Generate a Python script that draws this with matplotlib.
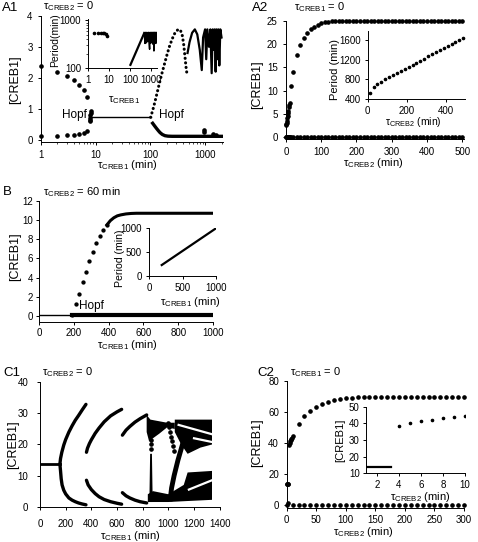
import matplotlib
matplotlib.use('Agg')
import matplotlib.pyplot as plt
from matplotlib.ticker import LogLocator, NullFormatter

plt.rcParams['font.family'] = ['Liberation Sans', 'DejaVu Sans']
plt.rcParams['mathtext.fontset'] = 'custom'
plt.rcParams['mathtext.rm'] = 'Liberation Sans'
plt.rcParams['mathtext.it'] = 'Liberation Sans:italic'

# ---------------- data ----------------
# A1 (tau_CREB2 = 0), log tau_CREB1
a1_tau_pre = [1, 2, 3, 4, 5, 6, 7]
a1_max_pre = [2.38, 2.2, 2.05, 1.92, 1.78, 1.62, 1.38]
a1_min_pre = [0.13, 0.13, 0.15, 0.17, 0.2, 0.22, 0.3]
a1_tau_clu = [7.9, 7.9, 8.0, 8.0, 8.1, 8.1]
a1_val_clu = [0.6, 0.66, 0.72, 0.8, 0.88, 0.93]
a1_ss_tau = [8.5, 101]
a1_ss_val = [0.73, 0.73]
a1_rise_tau = [101, 110, 120, 132, 145, 160, 178, 198, 222, 250, 282, 318, 350, 380, 405, 428, 448, 473]
a1_rise_val = [0.73, 0.95, 1.2, 1.5, 1.8, 2.1, 2.4, 2.7, 3.0, 3.25, 3.45, 3.55, 3.55, 3.4, 3.1, 2.7, 2.35, 2.05]
a1_osc_tau = [478, 520, 580, 650, 720, 800, 870, 920, 1000, 1050, 1100, 1180, 1250, 1320, 1380, 1430,
              1500, 1560, 1620, 1680, 1750, 1820, 1900, 2000]
a1_osc_val = [2.8, 3.15, 3.45, 3.56, 3.4, 2.9, 2.25, 3.3, 3.56, 2.6, 3.56, 3.0, 3.56, 2.15, 3.56, 2.9,
              3.56, 2.2, 3.56, 2.6, 3.56, 2.4, 3.56, 3.3]
a1_low_tau = [110, 120, 130, 140, 150, 165, 185, 210, 250, 300, 400, 600, 900, 2000]
a1_low_val = [0.54, 0.45, 0.37, 0.3, 0.24, 0.18, 0.14, 0.125, 0.12, 0.12, 0.12, 0.12, 0.12, 0.12]
a1_blip_tau = [950, 960, 1400, 1600]
a1_blip_val = [0.32, 0.25, 0.18, 0.16]
# A1 inset: period
a1p_tau_a = [2, 3, 4, 5, 6, 7, 8]
a1p_per_a = [545, 550, 552, 548, 535, 515, 480]
a1p_tau_b = [105, 480]
a1p_per_b = [118, 545]
a1p_tau_c = [480, 520, 560, 600, 640, 700, 760, 820, 860, 880, 900, 960, 1020, 1080, 1150, 1220, 1300,
             1380, 1450, 1530, 1600, 1700, 1800, 1900]
a1p_per_c = [545, 330, 560, 340, 560, 360, 560, 330, 250, 480, 560, 330, 560, 350, 560, 320, 560,
             230, 560, 340, 560, 330, 560, 400]

# A2 (tau_CREB1 = 0)
a2_tau = [0, 1, 2, 3, 4, 5, 6, 7, 8, 9, 10, 15, 20, 30, 40, 50, 60, 70, 80, 90, 100, 110, 120, 130, 140,
          150, 160, 170, 180, 190, 200, 210, 220, 230, 240, 250, 260, 270, 280, 290, 300, 310, 320, 330,
          340, 350, 360, 370, 380, 390, 400, 410, 420, 430, 440, 450, 460, 470, 480, 490, 500]
a2_max = [2.6, 2.8, 3.1, 3.5, 4.0, 4.6, 5.1, 5.6, 6.4, 7.0, 7.4, 11.0, 14.1, 17.6, 19.8, 21.4, 22.5, 23.3,
          23.8, 24.2, 24.5, 24.7, 24.8, 24.9, 24.95, 25, 25, 25, 25, 25, 25, 25, 25, 25, 25, 25, 25, 25, 25,
          25, 25, 25, 25, 25, 25, 25, 25, 25, 25, 25, 25, 25, 25, 25, 25, 25, 25, 25, 25, 25, 25]
a2_min = [0, 0, 0, 0, 0, 0, 0, 0, 0, 0, 0, 0, 0, 0, 0, 0, 0, 0, 0, 0, 0, 0, 0, 0, 0, 0, 0, 0, 0, 0, 0,
          0, 0, 0, 0, 0, 0, 0, 0, 0, 0, 0, 0, 0, 0, 0, 0, 0, 0, 0, 0, 0, 0, 0, 0, 0, 0, 0, 0, 0, 0]
a2p_tau = [10, 30, 50, 70, 90, 110, 130, 150, 170, 190, 210, 230, 250, 270, 290, 310, 330, 350, 370,
           390, 410, 430, 450, 470, 490]
a2p_per = [530, 640, 705, 755, 800, 845, 890, 932, 975, 1017, 1060, 1102, 1145, 1187, 1230, 1272, 1315,
           1357, 1400, 1442, 1485, 1527, 1570, 1612, 1655]

# B (tau_CREB2 = 60 min)
b_ss_tau = [0, 190]
b_ss_val = [0.12, 0.12]
b_min_tau = [190, 1000]
b_min_val = [0.1, 0.1]
b_rise_tau = [190, 210, 230, 250, 270, 290, 310, 330, 350, 370, 390]
b_rise_val = [0.15, 1.2, 2.3, 3.5, 4.6, 5.7, 6.7, 7.6, 8.3, 9.0, 9.5]
b_plat_tau = [390, 410, 430, 450, 470, 500, 530, 560, 600, 700, 800, 900, 1000]
b_plat_val = [9.5, 9.95, 10.25, 10.45, 10.55, 10.65, 10.7, 10.72, 10.72, 10.72, 10.72, 10.72, 10.72]
bp_tau = [190, 1000]
bp_per = [225, 1000]

# C1 (tau_CREB2 = 0)
c1_ss_tau = [0, 155]
c1_ss_val = [13.7, 13.7]
c1_u1_tau = [155, 160, 170, 185, 200, 225, 250, 275, 300, 330, 358]
c1_u1_val = [13.7, 15.5, 17.5, 19.8, 21.6, 24.0, 26.0, 27.8, 29.3, 31.2, 32.9]
c1_l1_tau = [155, 160, 165, 172, 185, 200, 225, 250, 275, 300, 330, 358]
c1_l1_val = [13.7, 11.5, 9.0, 7.0, 5.3, 4.1, 2.8, 2.1, 1.6, 1.2, 0.85, 0.6]
c1_u2_tau = [362, 370, 385, 400, 430, 460, 500, 550, 600, 636]
c1_u2_val = [17.5, 18.8, 20.3, 21.5, 23.6, 25.3, 27.3, 29.2, 30.5, 31.3]
c1_l2_tau = [362, 375, 400, 430, 460, 500, 550, 600, 636]
c1_l2_val = [8.5, 7.0, 5.5, 4.2, 3.2, 2.3, 1.6, 1.1, 0.8]
c1_u3_tau = [642, 670, 700, 740, 780, 831]
c1_u3_val = [23.0, 24.6, 25.8, 27.2, 28.3, 29.5]
c1_l3_tau = [642, 670, 700, 740, 780, 831]
c1_l3_val = [4.5, 3.5, 2.8, 2.1, 1.6, 1.2]
# chaotic region (filled outlines)
c1_pa_tau = [831, 860, 990, 1050, 1050, 990, 930, 880, 850, 831]
c1_pa_val = [29.5, 28.0, 27.0, 27.0, 25.0, 25.5, 23.5, 22.0, 21.0, 24.0]
c1_pb_tau = [1050, 1340, 1340, 1250, 1150, 1100, 1050]
c1_pb_val = [28.0, 28.0, 20.0, 19.0, 17.0, 20.0, 24.0]
c1_pc_tau = [840, 1000, 1140, 1340, 1340, 1150, 1120, 1000, 880, 840]
c1_pc_val = [1.5, 1.5, 1.8, 2.2, 11.5, 11.0, 7.0, 4.0, 5.0, 4.0]
c1_vs_tau = [852, 878, 872, 858]
c1_vs_val = [1.5, 1.5, 17.0, 17.0]
c1_vd_tau = [866, 866, 866, 866]
c1_vd_val = [18.5, 20.0, 21.5, 23.0]
c1_arm_tau = [1110, 1075, 1045, 1025, 1015]
c1_arm_val = [20.0, 15.0, 10.0, 6.0, 2.5]
c1_dots_tau = [1000, 1005, 1012, 1020, 1028, 1036, 1045]
c1_dots_val = [27.0, 25.5, 24.0, 22.5, 21.0, 19.5, 18.0]
c1_wa_tau = [1080, 1340]
c1_wa_val = [26.3, 23.3]
c1_wb_tau = [1200, 1340]
c1_wb_val = [22.0, 20.8]
c1_wc_tau = [1160, 1340]
c1_wc_val = [5.5, 8.5]

# C2 (tau_CREB1 = 0)
c2_tau = [0, 1, 2, 3, 4, 5, 6, 7, 8, 9, 10, 20, 30, 40, 50, 60, 70, 80, 90, 100, 110, 120, 130, 140,
          150, 160, 170, 180, 190, 200, 210, 220, 230, 240, 250, 260, 270, 280, 290, 300]
c2_max = [13.7, 13.7, 13.7, 13.7, 38.6, 40.0, 41.2, 42.0, 43.0, 43.6, 44.6, 52.2, 57.6, 60.8, 63.6, 65.5,
          66.8, 67.8, 68.5, 69.0, 69.3, 69.6, 69.8, 69.9, 70, 70, 70, 70, 70, 70, 70, 70, 70, 70, 70, 70,
          70, 70, 70, 70]
c2_min_tau = [0, 2, 10, 20, 30, 40, 50, 60, 70, 80, 90, 100, 110, 120, 130, 140, 150, 160, 170, 180, 190,
              200, 210, 220, 230, 240, 250, 260, 270, 280, 290, 300]
c2_min = [0, 1.5, 0, 0, 0, 0, 0, 0, 0, 0, 0, 0, 0, 0, 0, 0, 0, 0, 0, 0, 0, 0, 0, 0, 0, 0, 0, 0, 0, 0, 0, 0]
c2i_ss_tau = [1, 3.3]
c2i_ss_val = [13.7, 13.7]
c2i_tau = [4, 5, 6, 7, 8, 9, 10]
c2i_val = [38.6, 40.0, 41.2, 42.0, 43.0, 43.6, 44.6]

# ---------------- figure ----------------
W, H = 478, 542
fig = plt.figure(figsize=(W / 100, H / 100), dpi=100)


def axpx(l, t, r, b):
    return fig.add_axes([l / W, 1 - b / H, (r - l) / W, (b - t) / H])


def style(ax, pad=2.5, size=7):
    for s in ['top', 'right']:
        ax.spines[s].set_visible(False)
    for s in ['left', 'bottom']:
        ax.spines[s].set_linewidth(0.7)
    ax.tick_params(direction='out', length=2.5, width=0.7, labelsize=size, pad=pad)
    ax.tick_params(which='minor', direction='out', length=1.5, width=0.5)
    ax.patch.set_alpha(0)


def txt(x, y, s, size=8, ha='left', rot=0):
    fig.text(x / W, 1 - y / H, s, fontsize=size, ha=ha, va='center', rotation=rot)


K = 'black'
DOT = dict(color=K, lw=2.2, ls=(0, (0.05, 1.45)), dash_capstyle='round')
MS = 2.3

# ---- A1 ----
ax = axpx(41, 15.7, 222.7, 141.6)
style(ax, pad=3.5)
ax.set_xscale('log')
ax.set_xlim(1, 2100)
ax.set_ylim(-0.05, 4)
ax.plot(a1_tau_pre, a1_max_pre, 'o', color=K, ms=MS, clip_on=False)
ax.plot(a1_tau_pre, a1_min_pre, 'o', color=K, ms=MS, clip_on=False)
ax.plot(a1_tau_clu, a1_val_clu, 'o', color=K, ms=MS)
ax.plot(a1_ss_tau, a1_ss_val, color=K, lw=1.0)
ax.plot(a1_rise_tau, a1_rise_val, **DOT)
ax.plot(a1_osc_tau, a1_osc_val, color=K, lw=1.6)
ax.plot(a1_low_tau, a1_low_val, color=K, lw=2.4)
ax.plot(a1_blip_tau, a1_blip_val, 'o', color=K, ms=MS)
ax.set_xticks([1, 10, 100, 1000])
ax.set_xticklabels(['1', '10', '100', '1000'])
ax.xaxis.set_minor_locator(LogLocator(base=10, subs=range(2, 10)))
ax.xaxis.set_minor_formatter(NullFormatter())
ax.set_yticks([0, 1, 2, 3, 4])

ai = axpx(88, 19.3, 157.3, 68.3)
style(ai, pad=2.5)
ai.set_xscale('log')
ai.set_yscale('log')
ai.set_xlim(1, 2000)
ai.set_ylim(100, 1050)
ai.plot(a1p_tau_a, a1p_per_a, 'o', color=K, ms=1.6)
ai.plot(a1p_tau_b, a1p_per_b, color=K, lw=1.6)
ai.plot(a1p_tau_c, a1p_per_c, color=K, lw=1.1)
ai.set_xticks([1, 10, 100, 1000])
ai.set_xticklabels(['1', '10', '100', '1000'])
ai.set_yticks([100, 1000])
ai.set_yticklabels(['100', '1000'])
ai.xaxis.set_minor_locator(LogLocator(base=10, subs=range(2, 10)))
ai.yaxis.set_minor_locator(LogLocator(base=10, subs=range(2, 10)))
ai.xaxis.set_minor_formatter(NullFormatter())
ai.yaxis.set_minor_formatter(NullFormatter())

txt(2, 8, 'A1', size=9.5)
txt(43, 6.5, r'τ$_{\mathrm{CREB2}}$ = 0', size=8)
txt(15, 80, '[CREB1]', size=9, ha='center', rot=90)
txt(127, 165.5, r'τ$_{\mathrm{CREB1}}$ (min)', size=8, ha='center')
txt(74.5, 115, 'Hopf', size=8.5, ha='center')
txt(171, 115, 'Hopf', size=8.5, ha='center')
txt(55, 40, 'Period(min)', size=7.5, ha='center', rot=90)
txt(124, 100, r'τ$_{\mathrm{CREB1}}$', size=8, ha='center')

# ---- A2 ----
ax = axpx(286, 21, 464, 138.9)
style(ax, pad=3.5)
ax.set_xlim(0, 505)
ax.set_ylim(-0.4, 25)
ax.plot(a2_tau, a2_max, 'o', color=K, ms=MS, clip_on=False)
ax.plot(a2_tau, a2_min, 'o', color=K, ms=MS, clip_on=False)
ax.set_xticks([0, 100, 200, 300, 400, 500])
ax.set_yticks([0, 5, 10, 15, 20, 25])

ai = axpx(367.7, 30.7, 465.2, 99)
style(ai, pad=2.5)
ai.set_xlim(0, 500)
ai.set_ylim(400, 1800)
ai.plot(a2p_tau, a2p_per, 'o', color=K, ms=1.6)
ai.set_xticks([0, 200, 400])
ai.set_yticks([400, 800, 1200, 1600])

txt(252, 8, 'A2', size=9.5)
txt(294, 7, r'τ$_{\mathrm{CREB1}}$ = 0', size=8)
txt(257, 85, '[CREB1]', size=9, ha='center', rot=90)
txt(373, 163, r'τ$_{\mathrm{CREB2}}$ (min)', size=8, ha='center')
txt(335, 70, 'Period (min)', size=8, ha='center', rot=90)
txt(413, 121.7, r'τ$_{\mathrm{CREB2}}$ (min)', size=7.5, ha='center')

# ---- B ----
ax = axpx(39, 201, 213, 321.7)
style(ax, pad=2)
ax.set_xlim(0, 1000)
ax.set_ylim(-0.6, 12)
ax.plot(b_ss_tau, b_ss_val, color=K, lw=1.0)
ax.plot(b_min_tau, b_min_val, color=K, lw=3.0)
ax.plot(b_rise_tau, b_rise_val, 'o', color=K, ms=2.1)
ax.plot(b_plat_tau, b_plat_val, color=K, lw=2.2)
ax.set_xticks([0, 200, 400, 600, 800, 1000])
ax.set_yticks([0, 2, 4, 6, 8, 10, 12])

ai = axpx(149, 228.3, 216, 275.7)
style(ai, pad=2.5)
ai.set_xlim(0, 1000)
ai.set_ylim(0, 1000)
ai.plot(bp_tau, bp_per, color=K, lw=1.6)
ai.set_xticks([0, 500, 1000])
ai.set_yticks([0, 500, 1000])

txt(3, 192, 'B', size=9.5)
txt(43, 191.7, r'τ$_{\mathrm{CREB2}}$ = 60 min', size=8)
txt(15, 257, '[CREB1]', size=9, ha='center', rot=90)
txt(127, 345, r'τ$_{\mathrm{CREB1}}$ (min)', size=8, ha='center')
txt(91, 306, 'Hopf', size=8.5, ha='center')
txt(120, 258, 'Period (min)', size=7.6, ha='center', rot=90)
txt(190, 302, r'τ$_{\mathrm{CREB1}}$ (min)', size=8, ha='center')

# ---- C1 ----
ax = axpx(40, 382.3, 219.7, 507.3)
style(ax, pad=6)
ax.set_xlim(0, 1400)
ax.set_ylim(-0.2, 40)
ax.plot(c1_ss_tau, c1_ss_val, color=K, lw=2.0)
for tx, vy in [(c1_u1_tau, c1_u1_val), (c1_l1_tau, c1_l1_val), (c1_u2_tau, c1_u2_val),
               (c1_l2_tau, c1_l2_val), (c1_u3_tau, c1_u3_val), (c1_l3_tau, c1_l3_val)]:
    ax.plot(tx, vy, color=K, lw=2.4, solid_capstyle='round')
for tx, vy in [(c1_pa_tau, c1_pa_val), (c1_pb_tau, c1_pb_val), (c1_pc_tau, c1_pc_val),
               (c1_vs_tau, c1_vs_val)]:
    ax.fill(tx, vy, color=K, lw=0)
ax.plot(c1_vd_tau, c1_vd_val, 'o', color=K, ms=MS)
ax.plot(c1_arm_tau, c1_arm_val, color=K, lw=3.5)
ax.plot(c1_dots_tau, c1_dots_val, 'o', color=K, ms=MS)
for tx, vy in [(c1_wa_tau, c1_wa_val), (c1_wb_tau, c1_wb_val), (c1_wc_tau, c1_wc_val)]:
    ax.plot(tx, vy, color='white', lw=1.6)
ax.set_xticks([0, 200, 400, 600, 800, 1000, 1200, 1400])
ax.set_yticks([0, 10, 20, 30, 40])

txt(3, 373, 'C1', size=9.5)
txt(42, 372, r'τ$_{\mathrm{CREB2}}$ = 0', size=8)
txt(13, 445, '[CREB1]', size=9, ha='center', rot=90)
txt(130, 536, r'τ$_{\mathrm{CREB1}}$ (min)', size=8, ha='center')

# ---- C2 ----
ax = axpx(286.7, 381, 464, 507.5)
style(ax, pad=3)
ax.set_xlim(0, 300)
ax.set_ylim(-1.3, 80)
ax.plot(c2_tau, c2_max, 'o', color=K, ms=MS, clip_on=False)
ax.plot(c2_min_tau, c2_min, 'o', color=K, ms=MS, clip_on=False)
ax.set_xticks([0, 50, 100, 150, 200, 250, 300])
ax.set_yticks([0, 20, 40, 60, 80])

ai = axpx(366, 406.7, 465, 473.3)
style(ai, pad=2)
ai.set_xlim(1, 10)
ai.set_ylim(10, 50)
ai.plot(c2i_ss_tau, c2i_ss_val, color=K, lw=1.6)
ai.plot(c2i_tau, c2i_val, 'o', color=K, ms=1.6)
ai.set_xticks([2, 4, 6, 8, 10])
ai.set_yticks([10, 20, 30, 40, 50])

txt(257, 373, 'C2', size=9.5)
txt(290, 372, r'τ$_{\mathrm{CREB1}}$ = 0', size=8)
txt(257, 443, '[CREB1]', size=9, ha='center', rot=90)
txt(363, 532, r'τ$_{\mathrm{CREB2}}$ (min)', size=8, ha='center')
txt(340, 440, '[CREB1]', size=8, ha='center', rot=90)
txt(420, 497, r'τ$_{\mathrm{CREB2}}$ (min)', size=8, ha='center')

fig.savefig('out.png', dpi=100)
